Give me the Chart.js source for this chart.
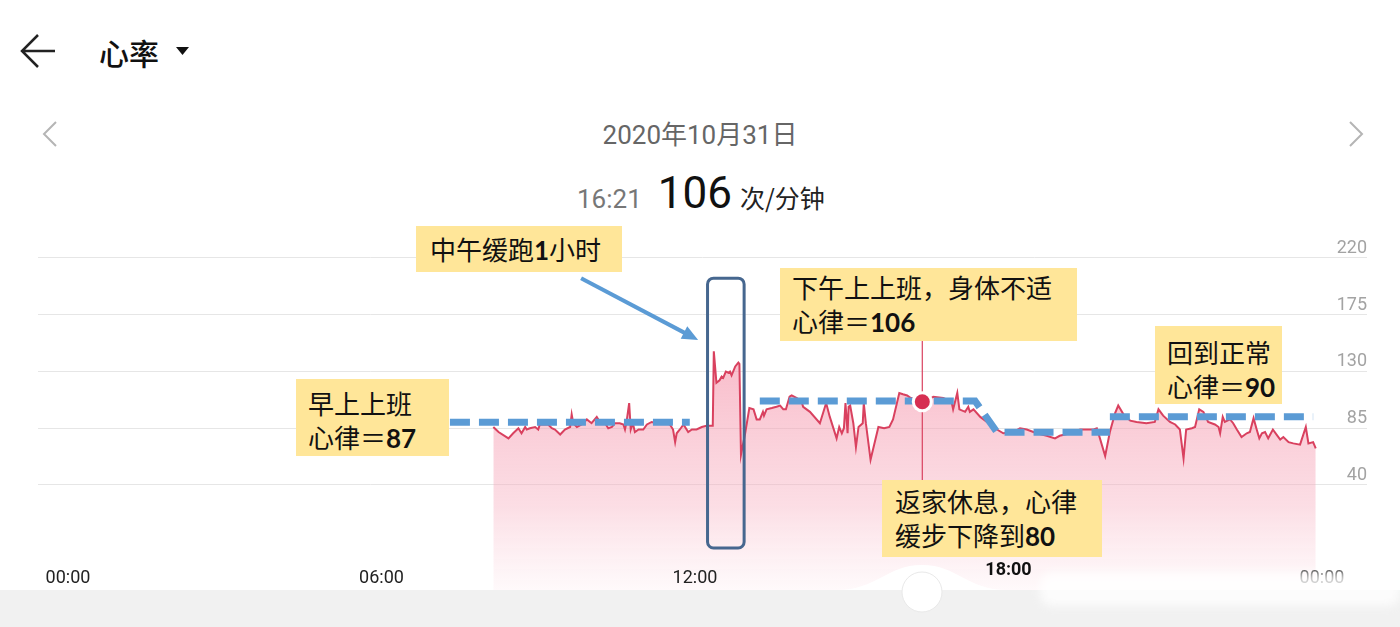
<!DOCTYPE html>
<html>
<head>
<meta charset="utf-8">
<script src="https://cdn.jsdelivr.net/npm/chart.js@4.4.0/dist/chart.umd.min.js"></script>
<style>
  html, body { margin: 0; padding: 0; background: #fff; }
  body { width: 1400px; height: 627px; position: relative; overflow: hidden;
         font-family: "Noto Sans CJK SC", "Noto Sans", sans-serif; }
  .abs { position: absolute; white-space: nowrap; }
  #chart { position: absolute; left: 0; top: 0; }
  .note { position: absolute; background: #ffe699; color: #111; font-size: 26px;
          line-height: 34px; box-sizing: border-box; white-space: nowrap; }
  .note b { font-family: Lato, "Open Sans", sans-serif; font-weight: 700; }
</style>
</head>
<body>

<!-- header -->
<svg class="abs" style="left:0;top:0" width="1400" height="230">
  <path d="M22 51 L55 51 M38 35 L22 51 L38 67" fill="none" stroke="#222" stroke-width="2.5"/>
  <path d="M176 47 L189 47 L182.5 55 Z" fill="#111"/>
  <path d="M56 122 L44 134 L56 146" fill="none" stroke="#b5b5b5" stroke-width="2"/>
  <path d="M1350 122 L1362 134 L1350 146" fill="none" stroke="#b5b5b5" stroke-width="2"/>
</svg>
<div class="abs" style="left:99px;top:32px;font-size:30px;line-height:40px;font-weight:500;color:#111">心率</div>
<div class="abs" style="left:0;width:1400px;top:115px;text-align:center;font-family:Roboto,'Noto Sans CJK SC';font-size:26px;line-height:40px;color:#666">2020年10月31日</div>
<div class="abs" style="left:577px;top:168px;line-height:50px;font-family:Roboto,'Noto Sans CJK SC'">
  <span style="font-size:26px;color:#777">16:21</span><span style="font-size:44px;color:#111;margin-left:16px">106</span><span style="font-size:25px;color:#222;margin-left:8px;font-family:'Noto Sans CJK SC'">次/分钟</span>
</div>

<canvas id="chart" width="1400" height="627"></canvas>

<!-- bottom bar -->
<svg class="abs" style="left:0;top:560px" width="1400" height="67">
  <rect x="0" y="30" width="1400" height="37" fill="#f1f1f1"/>
  <path d="M836 30 C 878 30, 886 5, 922 5 C 958 5, 966 30, 1008 30 Z" fill="#fff"/>
  <circle cx="922" cy="32" r="20" fill="#fff" stroke="#e9e9e9" stroke-width="1"/>
</svg>
<div class="abs" style="left:1040px;top:572px;width:360px;height:34px;background:#fff;opacity:.8;filter:blur(5px);border-radius:12px"></div>

<!-- notes -->
<div class="note" style="left:416px;top:226px;width:206px;height:46px;padding:6px 0 0 14px">中午缓跑<b>1</b>小时</div>
<div class="note" style="left:296px;top:379px;width:153px;height:77px;padding:7px 0 0 12px">早上上班<br>心律＝<b>87</b></div>
<div class="note" style="left:780px;top:268px;width:297px;height:73px;padding:2px 0 0 12px">下午上上班，身体不适<br>心律＝<b>106</b></div>
<div class="note" style="left:1155px;top:326px;width:127px;height:78px;padding:9px 0 0 12px">回到正常<br>心律＝<b>90</b></div>
<div class="note" style="left:882px;top:480px;width:220px;height:77px;padding:4px 0 0 13px">返家休息，心律<br>缓步下降到<b>80</b></div>

<script>
// heart rate samples (hour of day, beats per minute)
const hours = [8.14,8.24,8.43,8.52,8.62,8.68,8.75,8.78,8.84,8.94,9.00,9.03,9.19,9.26,9.32,9.42,9.51,9.61,9.64,9.67,
  9.74,9.83,9.93,10.02,10.12,10.18,10.28,10.34,10.41,10.47,10.56,10.63,10.66,10.69,10.74,10.77,10.81,10.85,10.92,11.01,
  11.08,11.17,11.27,11.39,11.52,11.58,11.62,11.65,11.71,11.78,11.87,11.94,12.03,12.13,12.22,12.34,12.36,12.41,12.47,12.51,
  12.54,12.59,12.64,12.67,12.70,12.77,12.83,12.85,12.88,12.96,13.04,13.12,13.18,13.24,13.30,13.32,13.37,13.47,13.56,13.63,
  13.69,13.74,13.81,13.85,13.95,14.04,14.07,14.20,14.39,14.51,14.58,14.71,14.76,14.81,14.85,14.88,14.92,14.94,14.97,15.03,
  15.08,15.13,15.21,15.23,15.27,15.36,15.51,15.62,15.72,15.79,15.91,15.98,16.06,16.13,16.21,16.28,16.35,16.45,16.56,16.75,
  16.91,16.94,17.02,17.06,17.17,17.23,17.26,17.33,17.46,17.65,17.78,17.90,18.09,18.22,18.35,18.54,18.73,18.89,18.98,19.18,
  19.37,19.50,19.63,19.69,19.75,19.85,19.94,20.04,20.10,20.20,20.33,20.45,20.64,20.80,20.87,20.96,21.09,21.19,21.28,21.35,
  21.40,21.51,21.57,21.65,21.73,21.82,21.95,22.02,22.05,22.10,22.14,22.24,22.30,22.37,22.46,22.56,22.62,22.69,22.75,22.80,
  22.85,22.91,22.97,23.06,23.13,23.20,23.26,23.36,23.45,23.58,23.69,23.74,23.83,23.88];
const bpm = [86,82,77,81,85,81,86,84,85,86,84,88,88,85,84,80,84,86,96,89,
  86,88,92,89,94,90,89,85,86,89,89,88,84,90,105,84,89,82,84,84,
  88,90,89,90,88,84,74,81,84,88,82,84,84,86,87,87,146,121,123,126,
  125,130,129,130,127,134,137,136,64,81,101,100,92,92,98,95,100,101,102,103,
  100,100,110,111,109,106,102,98,89,105,94,77,86,81,85,105,81,102,103,89,
  70,86,89,105,89,60,86,85,86,92,113,112,111,109,108,107,106,107,110,109,
  106,100,113,100,98,102,98,100,94,88,84,81,82,85,84,81,79,77,79,81,
  84,84,84,85,77,63,82,97,103,96,91,90,89,90,100,95,90,88,84,61,
  84,85,86,100,98,90,88,86,81,94,90,92,89,84,78,81,82,93,84,77,
  81,82,77,84,80,76,78,74,73,72,86,73,74,69];

// dashed level lines added on the screenshot
const morningHours = [7.31, 11.90];
const morningLevel = [89.7, 89.7];
const afternoonHours = [13.24, 17.36, 17.78, 19.94];
const afternoonLevel = [106.6, 106.6, 81.8, 81.8];
const eveningHours = [19.94, 23.83];
const eveningLevel = [94.2, 94.2];

const yTicks = [40, 85, 130, 175, 220];
const xTicks = [0, 6, 12, 18, 24];
const xTickLabels = ['00:00', '06:00', '12:00', '18:00', '00:00'];
const selectedHour = 16.35;
const selectedBpm = 106;

const toPoints = (xs, ys) => xs.map((x, i) => ({ x: x, y: ys[i] }));

function pinkFill(context) {
    const chart = context.chart;
    const area = chart.chartArea;
    if (!area) return 'rgba(246,170,188,0.5)';
    const g = chart.ctx.createLinearGradient(0, area.top + 140, 0, area.bottom);
    g.addColorStop(0, 'rgba(245,150,172,0.58)');
    g.addColorStop(0.6, 'rgba(247,175,192,0.42)');
    g.addColorStop(1, 'rgba(250,205,216,0.12)');
    return g;
}

function dashed(xs, ys) {
    return {
        data: toPoints(xs, ys),
        borderColor: '#5b9bd5',
        borderWidth: 7,
        borderDash: [20, 9],
        borderCapStyle: 'butt',
        pointRadius: 0,
        fill: false,
        tension: 0,
        order: 1
    };
}

// tick labels, highlight point and the marks drawn on the screenshot
const overlay = {
    id: 'overlay',
    afterDatasetsDraw(chart) {
        const { ctx, chartArea: { right }, scales: { x, y } } = chart;
        ctx.save();

        // y labels sit above their grid line at the right end
        ctx.font = '400 18px Roboto';
        ctx.fillStyle = '#a3a3a3';
        ctx.textAlign = 'right';
        ctx.textBaseline = 'alphabetic';
        yTicks.forEach(v => ctx.fillText(String(v), right, y.getPixelForValue(v) - 5));

        // x labels
        ctx.textAlign = 'center';
        xTicks.forEach((v, i) => {
            const sel = v === 18;
            ctx.font = (sel ? '700 ' : '400 ') + '18px Roboto';
            ctx.fillStyle = sel ? '#111' : '#222';
            ctx.fillText(xTickLabels[i], x.getPixelForValue(v), sel ? 575 : 583);
        });

        // selected sample: cross line and dot
        const sx = x.getPixelForValue(selectedHour);
        const sy = y.getPixelForValue(selectedBpm);
        ctx.strokeStyle = '#d9415f';
        ctx.lineWidth = 1.2;
        ctx.beginPath();
        ctx.moveTo(sx, y.getPixelForValue(212));
        ctx.lineTo(sx, y.getPixelForValue(44));
        ctx.stroke();
        ctx.beginPath();
        ctx.arc(sx, sy, 10.5, 0, Math.PI * 2);
        ctx.fillStyle = '#fff';
        ctx.fill();
        ctx.beginPath();
        ctx.arc(sx, sy, 7.5, 0, Math.PI * 2);
        ctx.fillStyle = '#d62f52';
        ctx.fill();

        // box around the noon run
        const bl = x.getPixelForValue(12.24), br = x.getPixelForValue(12.94);
        const bt = y.getPixelForValue(204), bb = y.getPixelForValue(-10);
        ctx.strokeStyle = '#46678f';
        ctx.lineWidth = 3;
        ctx.beginPath();
        ctx.roundRect(bl, bt, br - bl, bb - bt, 6);
        ctx.stroke();

        // arrow from the label to the box
        const ax0 = x.getPixelForValue(9.82), ay0 = y.getPixelForValue(204);
        const ax1 = x.getPixelForValue(12.06), ay1 = y.getPixelForValue(155);
        const ang = Math.atan2(ay1 - ay0, ax1 - ax0);
        ctx.strokeStyle = '#5b9bd5';
        ctx.fillStyle = '#5b9bd5';
        ctx.lineWidth = 4;
        ctx.beginPath();
        ctx.moveTo(ax0, ay0);
        ctx.lineTo(ax1 - 12 * Math.cos(ang), ay1 - 12 * Math.sin(ang));
        ctx.stroke();
        ctx.beginPath();
        ctx.moveTo(ax1, ay1);
        ctx.lineTo(ax1 - 16 * Math.cos(ang) + 7 * Math.sin(ang), ay1 - 16 * Math.sin(ang) - 7 * Math.cos(ang));
        ctx.lineTo(ax1 - 16 * Math.cos(ang) - 7 * Math.sin(ang), ay1 - 16 * Math.sin(ang) + 7 * Math.cos(ang));
        ctx.closePath();
        ctx.fill();

        ctx.restore();
    }
};

const myChart = new Chart(document.getElementById('chart'), {
    type: 'line',
    data: {
        datasets: [
            {
                data: toPoints(hours, bpm),
                borderColor: '#d9415f',
                borderWidth: 2,
                pointRadius: 0,
                tension: 0,
                fill: 'start',
                backgroundColor: pinkFill,
                order: 2
            },
            dashed(morningHours, morningLevel),
            dashed(afternoonHours, afternoonLevel),
            dashed(eveningHours, eveningLevel)
        ]
    },
    options: {
        responsive: false,
        animation: false,
        events: [],
        layout: { padding: { left: 38, right: 33, top: 240, bottom: 37 } },
        plugins: { legend: { display: false }, tooltip: { enabled: false } },
        scales: {
            x: { type: 'linear', min: -0.574, max: 24.861, display: false },
            y: {
                position: 'right',
                min: -43.26,
                max: 234.27,
                afterBuildTicks: s => { s.ticks = yTicks.map(v => ({ value: v })); },
                afterFit: s => { s.width = 0; },
                ticks: { display: false },
                grid: { color: '#e6e6e6', drawTicks: false },
                border: { display: false }
            }
        }
    },
    plugins: [overlay]
});
</script>
</body>
</html>
